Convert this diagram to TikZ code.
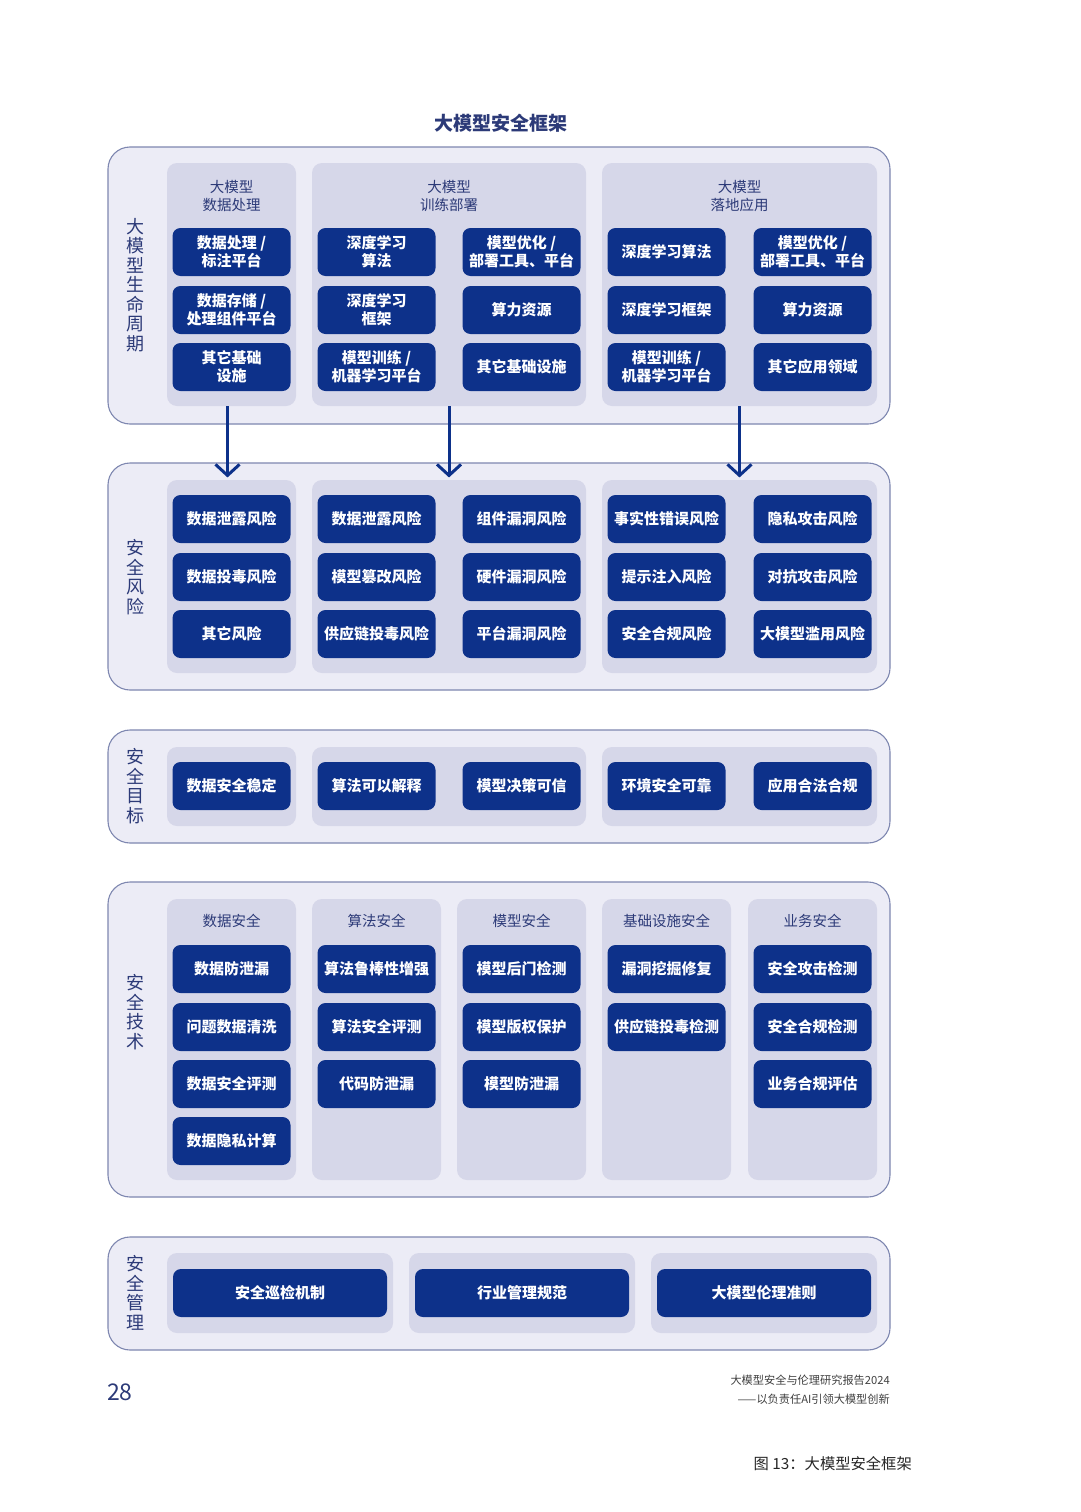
\documentclass[tikz,border=0pt]{standalone}
\usepackage{fontspec}
\setmainfont{Noto Sans CJK SC}
\usetikzlibrary{arrows.meta}
\definecolor{navy}{HTML}{0D318A}
\definecolor{ink}{HTML}{2C3A78}
\definecolor{panelfill}{HTML}{ECECF6}
\definecolor{panelline}{HTML}{7E87B0}
\definecolor{grpfill}{HTML}{D6D7E9}

\begin{document}
\begin{tikzpicture}[x=1pt,y=-1pt,
  panel/.style={draw=panelline,line width=1.1pt,fill=panelfill,rounded corners=22pt,inner sep=0pt,minimum width=782pt},
  grp/.style={fill=grpfill,rounded corners=10pt,inner sep=0pt},
  box/.style={fill=navy,text=white,rounded corners=8pt,inner sep=0pt,minimum width=118pt,minimum height=48pt,align=center,font=\bfseries\fontsize{15}{18}\selectfont},
  hd/.style={text=ink,align=center,font=\fontsize{14.5}{18}\selectfont},
  side/.style={text=ink,align=center,font=\fontsize{18}{19.5}\selectfont},
  arr/.style={draw=navy,line width=3pt,-{Straight Barb[length=11pt,width=24pt]}}]
\useasboundingbox[fill=white] (0,0) rectangle (1080,1512);

\node[text=ink,font=\bfseries\fontsize{19}{22}\selectfont] (title) at (501,123) {大模型安全框架};

% lifecycle
\node[panel,minimum height=277pt] (lc) at (499,285.5) {};
\node[side] (lcside) at (135,285) {大\\模\\型\\生\\命\\周\\期};
\node[grp,minimum width=129pt,minimum height=243pt] (lc1) at (231.5,284.5) {};
\node[grp,minimum width=274pt,minimum height=243pt] (lc2) at (449,284.5) {};
\node[grp,minimum width=275pt,minimum height=243pt] (lc3) at (739.5,284.5) {};
\node[hd] (lch1) at (231.5,196) {大模型\\数据处理};
\node[hd] (lch2) at (449,196) {大模型\\训练部署};
\node[hd] (lch3) at (739.5,196) {大模型\\落地应用};
\node[box] (lca1) at (231.5,252) {数据处理 /\\标注平台};
\node[box] (lca2) at (231.5,310) {数据存储 /\\处理组件平台};
\node[box] (lca3) at (231.5,367) {其它基础\\设施};
\node[box] (lcb1) at (376.5,252) {深度学习\\算法};
\node[box] (lcb2) at (376.5,310) {深度学习\\框架};
\node[box] (lcb3) at (376.5,367) {模型训练 /\\机器学习平台};
\node[box] (lcc1) at (521.5,252) {模型优化 /\\部署工具、平台};
\node[box] (lcc2) at (521.5,310) {算力资源};
\node[box] (lcc3) at (521.5,367) {其它基础设施};
\node[box] (lcd1) at (666.5,252) {深度学习算法};
\node[box] (lcd2) at (666.5,310) {深度学习框架};
\node[box] (lcd3) at (666.5,367) {模型训练 /\\机器学习平台};
\node[box] (lce1) at (812.5,252) {模型优化 /\\部署工具、平台};
\node[box] (lce2) at (812.5,310) {算力资源};
\node[box] (lce3) at (812.5,367) {其它应用领域};

% risk
\node[panel,minimum height=227pt] (rk) at (499,576.5) {};
\node[side] (rkside) at (135,577) {安\\全\\风\\险};
\node[grp,minimum width=129pt,minimum height=193pt] (rk1) at (231.5,576.5) {};
\node[grp,minimum width=274pt,minimum height=193pt] (rk2) at (449,576.5) {};
\node[grp,minimum width=275pt,minimum height=193pt] (rk3) at (739.5,576.5) {};
\node[box] (rka1) at (231.5,519) {数据泄露风险};
\node[box] (rka2) at (231.5,577) {数据投毒风险};
\node[box] (rka3) at (231.5,634) {其它风险};
\node[box] (rkb1) at (376.5,519) {数据泄露风险};
\node[box] (rkb2) at (376.5,577) {模型篡改风险};
\node[box] (rkb3) at (376.5,634) {供应链投毒风险};
\node[box] (rkc1) at (521.5,519) {组件漏洞风险};
\node[box] (rkc2) at (521.5,577) {硬件漏洞风险};
\node[box] (rkc3) at (521.5,634) {平台漏洞风险};
\node[box] (rkd1) at (666.5,519) {事实性错误风险};
\node[box] (rkd2) at (666.5,577) {提示注入风险};
\node[box] (rkd3) at (666.5,634) {安全合规风险};
\node[box] (rke1) at (812.5,519) {隐私攻击风险};
\node[box] (rke2) at (812.5,577) {对抗攻击风险};
\node[box] (rke3) at (812.5,634) {大模型滥用风险};

% arrows
\draw[arr] ([xshift=-4pt]lc1.south) -- ([xshift=-4pt,yshift=-15pt]lc1.south |- rk.north);
\draw[arr] (lc2.south) -- ([yshift=-15pt]lc2.south |- rk.north);
\draw[arr] (lc3.south) -- ([yshift=-15pt]lc3.south |- rk.north);

% goals
\node[panel,minimum height=113pt] (gl) at (499,786.5) {};
\node[side] (glside) at (135,786) {安\\全\\目\\标};
\node[grp,minimum width=129pt,minimum height=79pt] (gl1) at (231.5,786.5) {};
\node[grp,minimum width=274pt,minimum height=79pt] (gl2) at (449,786.5) {};
\node[grp,minimum width=275pt,minimum height=79pt] (gl3) at (739.5,786.5) {};
\node[box] (gla) at (231.5,786) {数据安全稳定};
\node[box] (glb) at (376.5,786) {算法可以解释};
\node[box] (glc) at (521.5,786) {模型决策可信};
\node[box] (gld) at (666.5,786) {环境安全可靠};
\node[box] (gle) at (812.5,786) {应用合法合规};

% techniques
\node[panel,minimum height=315pt] (tc) at (499,1039.5) {};
\node[side] (tcside) at (135,1012) {安\\全\\技\\术};
\node[grp,minimum width=129pt,minimum height=281pt] (tc1) at (231.5,1039.5) {};
\node[grp,minimum width=129pt,minimum height=281pt] (tc2) at (376.5,1039.5) {};
\node[grp,minimum width=129pt,minimum height=281pt] (tc3) at (521.5,1039.5) {};
\node[grp,minimum width=129pt,minimum height=281pt] (tc4) at (666.5,1039.5) {};
\node[grp,minimum width=129pt,minimum height=281pt] (tc5) at (812.5,1039.5) {};
\node[hd] (tch1) at (231.5,921) {数据安全};
\node[hd] (tch2) at (376.5,921) {算法安全};
\node[hd] (tch3) at (521.5,921) {模型安全};
\node[hd] (tch4) at (666.5,921) {基础设施安全};
\node[hd] (tch5) at (812.5,921) {业务安全};
\node[box] (tca1) at (231.5,969) {数据防泄漏};
\node[box] (tca2) at (231.5,1027) {问题数据清洗};
\node[box] (tca3) at (231.5,1084) {数据安全评测};
\node[box] (tca4) at (231.5,1141) {数据隐私计算};
\node[box] (tcb1) at (376.5,969) {算法鲁棒性增强};
\node[box] (tcb2) at (376.5,1027) {算法安全评测};
\node[box] (tcb3) at (376.5,1084) {代码防泄漏};
\node[box] (tcc1) at (521.5,969) {模型后门检测};
\node[box] (tcc2) at (521.5,1027) {模型版权保护};
\node[box] (tcc3) at (521.5,1084) {模型防泄漏};
\node[box] (tcd1) at (666.5,969) {漏洞挖掘修复};
\node[box] (tcd2) at (666.5,1027) {供应链投毒检测};
\node[box] (tce1) at (812.5,969) {安全攻击检测};
\node[box] (tce2) at (812.5,1027) {安全合规检测};
\node[box] (tce3) at (812.5,1084) {业务合规评估};

% management
\node[panel,minimum height=113pt] (mg) at (499,1293.5) {};
\node[side] (mgside) at (135,1293) {安\\全\\管\\理};
\node[grp,minimum width=226pt,minimum height=80pt] (mg1) at (280,1293) {};
\node[grp,minimum width=226pt,minimum height=80pt] (mg2) at (522,1293) {};
\node[grp,minimum width=226pt,minimum height=80pt] (mg3) at (764,1293) {};
\node[box,minimum width=214pt] (mga) at (280,1293) {安全巡检机制};
\node[box,minimum width=214pt] (mgb) at (522,1293) {行业管理规范};
\node[box,minimum width=214pt] (mgc) at (764,1293) {大模型伦理准则};

% footer
\node[text=ink,font=\fontsize{23}{26}\selectfont,anchor=west,inner sep=0pt] (page) at (107,1392) {28};
\node[text=black!75,font=\fontsize{11.2}{13}\selectfont,anchor=east,inner sep=0pt] (rep1) at (890,1380) {大模型安全与伦理研究报告2024};
\node[text=black!75,font=\fontsize{11.2}{13}\selectfont,anchor=east,inner sep=0pt] (rep2) at (890,1399) {——以负责任AI引领大模型创新};
\node[text=black!85,font=\fontsize{15.3}{18}\selectfont,anchor=east,inner sep=0pt] (cap) at (912,1464) {图 13：大模型安全框架};
\end{tikzpicture}
\end{document}
